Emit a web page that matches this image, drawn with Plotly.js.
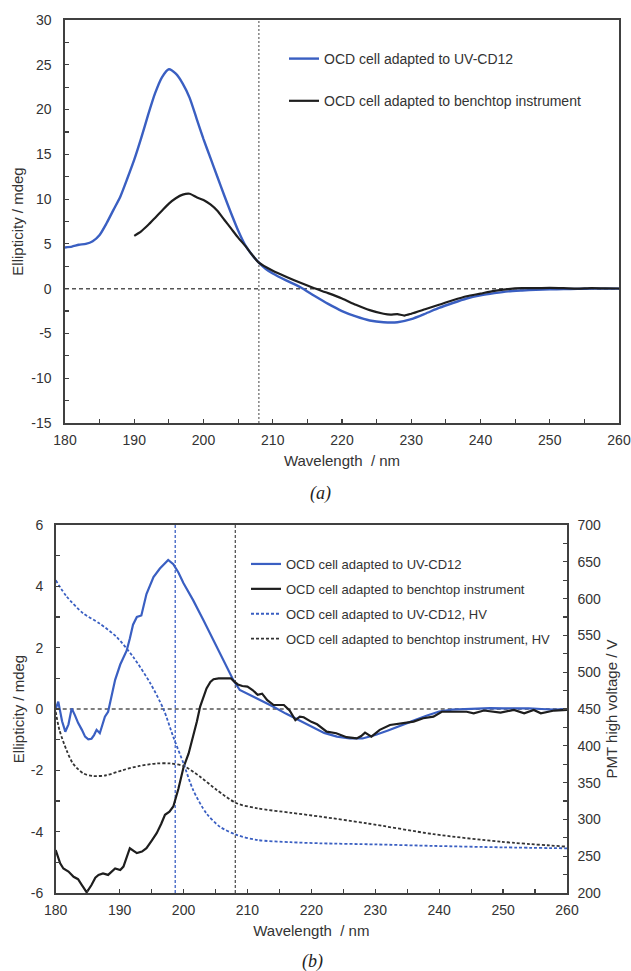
<!DOCTYPE html>
<html>
<head>
<meta charset="utf-8">
<script src="https://cdn.plot.ly/plotly-3.0.1.min.js"></script>
<style>
html,body{margin:0;padding:0;background:#fff;}
#chart{width:631px;height:971px;}
</style>
</head>
<body>
<div id="chart"></div>
<script>
// ---------- Panel (a) ----------
const aUvWavelength = [180,181,182,183,184,185,186,187,188,189,190,191,192,193,194,195,196,197,198,199,200,201,202,203,204,205,206,207,208,209,210,212,214,216,218,220,222,224,226,228,230,232,234,236,238,240,242,244,246,248,250,252,254,256,258,260];
const aUvEllipticity = [4.6,4.7,4.9,5.0,5.3,6.0,7.3,8.8,10.3,12.3,14.4,16.8,19.4,21.8,23.6,24.5,24.0,22.9,21.3,19.0,16.7,14.6,12.5,10.4,8.4,6.5,4.9,3.8,2.9,2.2,1.7,0.9,0.15,-0.8,-1.7,-2.5,-3.1,-3.55,-3.75,-3.75,-3.4,-2.8,-2.15,-1.6,-1.1,-0.75,-0.5,-0.3,-0.2,-0.12,-0.07,-0.05,-0.02,0,0,0];

const aBenchWavelength = [190,191,192,193,194,195,196,197,198,199,200,201,202,203,204,205,206,207,208,210,212,214,216,218,220,222,224,226,227,228,229,230,232,234,236,238,240,242,244,246,248,250,252,254,256,258,260];
const aBenchEllipticity = [5.9,6.4,7.1,7.9,8.7,9.5,10.1,10.5,10.6,10.2,9.9,9.4,8.7,7.7,6.7,5.7,4.8,3.8,2.9,2.0,1.3,0.65,0.05,-0.5,-1.1,-1.8,-2.4,-2.8,-2.9,-2.85,-3.0,-2.8,-2.3,-1.8,-1.3,-0.85,-0.55,-0.25,-0.05,0.05,0.05,0.08,0.05,0.0,0.06,0.03,0.02];

// ---------- Panel (b) ----------
const bUvWavelength = [180,180.4,181,181.5,182,182.5,183,183.5,184.1,184.6,185.1,185.6,186,186.4,186.9,187.3,187.7,188.2,188.7,189.3,190.1,191.1,191.6,192.1,192.7,193.4,194.2,195.3,196.3,197.6,198.4,199.2,200,201.5,203.1,204.7,206.3,207.8,208.8,210,212,214,216,218,220,222,224,226,228,230,232,234,236,238,240,242,244,246,248,250,252,254,256,258,260];
const bUvEllipticity = [0.0,0.24,-0.4,-0.74,-0.5,0.02,-0.2,-0.45,-0.68,-0.9,-0.99,-0.97,-0.85,-0.68,-0.79,-0.55,-0.25,-0.09,0.4,0.95,1.45,1.9,2.3,2.75,3.0,3.05,3.75,4.3,4.58,4.86,4.72,4.45,4.1,3.55,2.9,2.25,1.6,0.94,0.62,0.5,0.3,0.08,-0.15,-0.36,-0.58,-0.78,-0.9,-0.96,-0.96,-0.85,-0.7,-0.55,-0.38,-0.22,-0.08,-0.02,0,0.02,0.03,0.02,0.03,0.02,0.0,-0.02,0];

const bBenchWavelength = [180,180.7,181.2,182,182.8,183.5,184.1,184.85,185.6,186.2,186.7,187.4,188.2,188.8,189.3,190.1,190.6,191.6,192.1,192.7,193.5,194.2,195,195.8,196.5,197.1,197.8,198.4,199.2,200,200.8,201.5,202.1,202.6,203.1,203.6,204.2,204.7,205.5,206.5,207.4,207.9,208.5,209.2,210,210.8,211.6,212.3,213.1,214.1,215.7,216.6,217.5,218.2,218.8,220,220.9,222.4,223.9,225.5,227.1,227.8,228.4,229.4,230.7,232.3,233.9,236,237.5,239.1,240.4,242.8,244.3,245.4,247,249.6,251.7,253.3,254.8,255.9,258,260];
const bBenchEllipticity = [-4.6,-5.03,-5.2,-5.3,-5.47,-5.55,-5.74,-5.98,-5.74,-5.5,-5.41,-5.36,-5.41,-5.3,-5.2,-5.25,-5.14,-4.54,-4.6,-4.7,-4.65,-4.54,-4.3,-4.05,-3.75,-3.45,-3.35,-3.18,-2.6,-1.9,-1.45,-0.9,-0.4,0.08,0.4,0.67,0.88,0.97,1.0,1.0,1.0,0.9,0.8,0.75,0.73,0.62,0.46,0.5,0.29,0.13,0.13,-0.05,-0.36,-0.25,-0.27,-0.42,-0.5,-0.74,-0.79,-0.92,-0.96,-0.88,-0.77,-0.9,-0.68,-0.52,-0.47,-0.41,-0.3,-0.25,-0.09,-0.09,-0.09,-0.14,-0.05,-0.12,-0.03,-0.14,-0.03,-0.14,-0.05,-0.03];

const bUvHvWavelength = [180,181.7,184.3,186.9,189.5,192.1,194.8,196.9,198.4,200,201.5,203.6,205.7,208.3,211.6,216.8,221.5,230,239.1,250,260];
const bUvHv = [625,603,580,566,548,521,485,449,412,376,340,308,290,279,272,269,267.5,266,264,262,260.7];

const bBenchHvWavelength = [180,180.6,181.7,182.7,184.3,185.8,187.9,190.5,193.1,195.8,197.9,200,202.6,205.2,208.3,211.6,216.8,221.5,228.7,239.1,249.6,260];
const bBenchHv = [446,421,394,376,362.6,359,360,367,372.6,376,376,372.6,358,340,322,315,309,303.7,294.7,280,269.7,263];

// reference marker positions (nm)
const aMarkerWavelength = [208];
const bMarkerUv = [198.7];
const bMarkerBench = [208.1];

// tick labels (hyphen-minus as in the original figure)
const aYTickVals = [-15,-10,-5,0,5,10,15,20,25,30];
const aYTickText = ['-15','-10','-5','0','5','10','15','20','25','30'];
const bYTickVals = [-6,-4,-2,0,2,4,6];
const bYTickText = ['-6','-4','-2','0','2','4','6'];

const legendNames = [
  'OCD cell adapted to UV-CD12',
  'OCD cell adapted to benchtop instrument',
  'OCD cell adapted to UV-CD12, HV',
  'OCD cell adapted to benchtop instrument, HV'
];

const BLUE = '#3a5fc2';
const BLACK = '#1e1e1e';
const AXIS = '#404040';
const TXT = '#333333';
const FONT = 'Arial, Liberation Sans, sans-serif';

const traces = [
  {x:aUvWavelength, y:aUvEllipticity, xaxis:'x', yaxis:'y', mode:'lines', name:legendNames[0],
   line:{color:BLUE, width:2.4, shape:'spline', smoothing:0.6}, legend:'legend', legendgroup:'a1'},
  {x:aBenchWavelength, y:aBenchEllipticity, xaxis:'x', yaxis:'y', mode:'lines', name:legendNames[1],
   line:{color:BLACK, width:2.2, shape:'spline', smoothing:0.6}, legend:'legend', legendgroup:'a2'},
  {x:bUvWavelength, y:bUvEllipticity, xaxis:'x2', yaxis:'y2', mode:'lines', name:legendNames[0],
   line:{color:BLUE, width:2.2}, legend:'legend2', legendgroup:'b1'},
  {x:bBenchWavelength, y:bBenchEllipticity, xaxis:'x2', yaxis:'y2', mode:'lines', name:legendNames[1],
   line:{color:BLACK, width:2.2}, legend:'legend2', legendgroup:'b2'},
  {x:bUvHvWavelength, y:bUvHv, xaxis:'x2', yaxis:'y3', mode:'lines', name:legendNames[2],
   line:{color:BLUE, width:1.8, dash:'3px,2px', shape:'spline', smoothing:0.8}, legend:'legend2', legendgroup:'b3'},
  {x:bBenchHvWavelength, y:bBenchHv, xaxis:'x2', yaxis:'y3', mode:'lines', name:legendNames[3],
   line:{color:'#333', width:1.8, dash:'3px,2px', shape:'spline', smoothing:0.8}, legend:'legend2', legendgroup:'b4'}
];

const W = 631, H = 971;
function axisBase(extra){
  return Object.assign({
    showline:true, linecolor:AXIS, linewidth:1.6, mirror:true,
    showgrid:false, zeroline:false,
    ticks:'inside', ticklen:4, tickwidth:1.2, tickcolor:AXIS,
    tickfont:{family:FONT, size:14, color:TXT},
    ticklabelstandoff:4
  }, extra);
}

const layout = {
  width:W, height:H,
  margin:{l:0, r:0, t:0, b:0},
  paper_bgcolor:'#ffffff', plot_bgcolor:'#ffffff',
  font:{family:FONT, color:TXT},
  xaxis: axisBase({domain:[65/W, 619/W], range:[180,260], anchor:'y', dtick:10, tick0:180,
    minor:{dtick:5, ticks:'inside', ticklen:4, tickcolor:AXIS},
    title:{text:'Wavelength  / nm', font:{family:FONT, size:15, color:TXT}, standoff:8}}),
  yaxis: axisBase({domain:[1-423/H, 1-20/H], range:[-15,30], anchor:'x',
    tickmode:'array', tickvals:aYTickVals, ticktext:aYTickText,
    minor:{tickmode:'linear', tick0:0, dtick:2.5, ticks:'inside', ticklen:4, tickcolor:AXIS}, ticklabelstandoff:9,
    title:{text:'Ellipticity / mdeg', font:{family:FONT, size:15, color:TXT}, standoff:4}}),
  xaxis2: axisBase({domain:[55.7/W, 567/W], range:[180,260], anchor:'y2', dtick:10, tick0:180,
    minor:{dtick:5, ticks:'inside', ticklen:4, tickcolor:AXIS},
    title:{text:'Wavelength  / nm', font:{family:FONT, size:15, color:TXT}, standoff:8}}),
  yaxis2: axisBase({domain:[1-893/H, 1-525/H], range:[-6,6], anchor:'x2',
    tickmode:'array', tickvals:bYTickVals, ticktext:bYTickText,
    minor:{tickmode:'linear', tick0:0, dtick:1, ticks:'inside', ticklen:4, tickcolor:AXIS}, ticklabelstandoff:8,
    title:{text:'Ellipticity / mdeg', font:{family:FONT, size:15, color:TXT}, standoff:2}}),
  yaxis3: axisBase({range:[200,700], anchor:'x2', overlaying:'y2', side:'right', dtick:50, tick0:200,
    mirror:false,
    minor:{dtick:25, ticks:'inside', ticklen:4, tickcolor:AXIS}, ticklabelstandoff:6,
    title:{text:'PMT high voltage / V', font:{family:FONT, size:15, color:TXT}, standoff:6}}),
  showlegend:true,
  legend:{x:284/W, y:1-43/H, xanchor:'left', yanchor:'top', bgcolor:'rgba(0,0,0,0)',
    font:{family:FONT, size:14, color:TXT}, tracegroupgap:21, borderwidth:0},
  legend2:{x:246/W, y:1-549/H, xanchor:'left', yanchor:'top', bgcolor:'rgba(0,0,0,0)',
    font:{family:FONT, size:13, color:TXT}, tracegroupgap:5, borderwidth:0},
  shapes:[
    {type:'line', layer:'below', xref:'x domain', yref:'y', x0:0, x1:1, y0:0, y1:0,
     line:{color:'#555', width:1.5, dash:'4px,3px'}},
    {type:'line', layer:'below', xref:'x', yref:'y domain', x0:aMarkerWavelength[0], x1:aMarkerWavelength[0], y0:0, y1:1,
     line:{color:'#444', width:1, dash:'2px,2px'}},
    {type:'line', layer:'below', xref:'x2 domain', yref:'y2', x0:0, x1:1, y0:0, y1:0,
     line:{color:'#555', width:1.5, dash:'4px,3px'}},
    {type:'line', layer:'below', xref:'x2', yref:'y2 domain', x0:bMarkerUv[0], x1:bMarkerUv[0], y0:0, y1:1,
     line:{color:BLUE, width:1.3, dash:'3px,2px'}},
    {type:'line', layer:'below', xref:'x2', yref:'y2 domain', x0:bMarkerBench[0], x1:bMarkerBench[0], y0:0, y1:1,
     line:{color:'#444', width:1.2, dash:'3px,2px'}}
  ],
  annotations:[
    {text:'<i>(a)</i>', xref:'paper', yref:'paper', x:320/W, y:1-493/H, xanchor:'center', yanchor:'middle', showarrow:false,
     font:{family:'Liberation Serif, Times New Roman, serif', size:18, color:'#222'}},
    {text:'<i>(b)</i>', xref:'paper', yref:'paper', x:312/W, y:1-961/H, xanchor:'center', yanchor:'middle', showarrow:false,
     font:{family:'Liberation Serif, Times New Roman, serif', size:18, color:'#222'}}
  ]
};

Plotly.newPlot('chart', traces, layout, {displayModeBar:false, staticPlot:true});
</script>
</body>
</html>
